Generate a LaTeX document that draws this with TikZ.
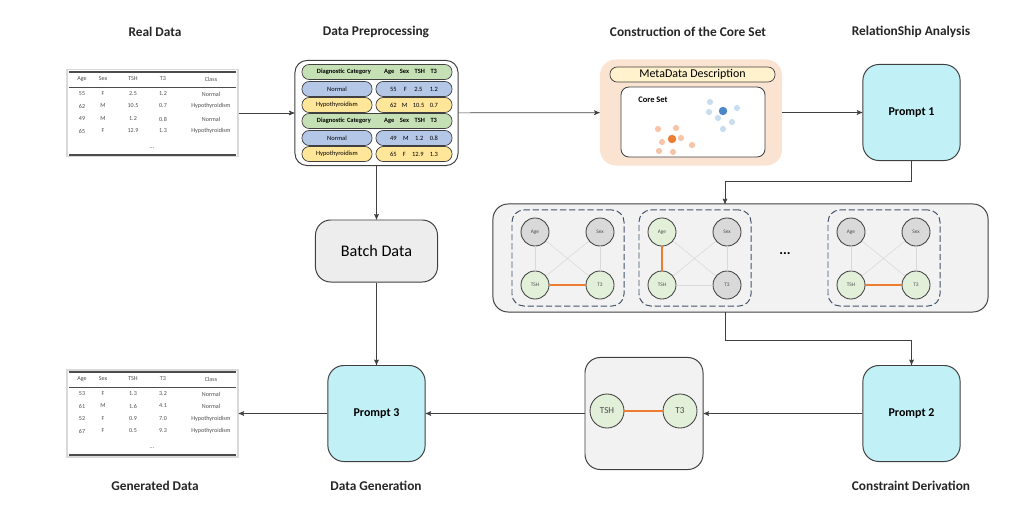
\documentclass[tikz,border=0pt]{standalone}
\usepackage{fontspec}
\setmainfont{Carlito}
\usetikzlibrary{arrows,positioning}
\definecolor{darkline}{HTML}{404040}
\definecolor{cyanbox}{HTML}{C1F1F7}
\definecolor{greenpill}{HTML}{C5E0B4}
\definecolor{bluepill}{HTML}{B4C7E7}
\definecolor{yellowpill}{HTML}{FFE699}
\definecolor{peach}{HTML}{FBE3D2}
\definecolor{metayellow}{HTML}{FFF2CC}
\definecolor{panelgray}{HTML}{F2F2F2}
\definecolor{nodegray}{HTML}{D9D9D9}
\definecolor{nodegreen}{HTML}{E2F0D9}
\definecolor{edgeorange}{HTML}{ED7D31}
\definecolor{dashblue}{HTML}{44546A}
\definecolor{dotblue}{HTML}{4A86C8}
\definecolor{dotblue2}{HTML}{C9DDF0}
\definecolor{dotorange2}{HTML}{F6C4A6}
\newcommand{\cellgap}{\hskip 0pt plus 1fill}
\begin{document}
\begin{tikzpicture}[x=0.025cm,y=-0.025cm,>=stealth',
    title/.style={font=\fontsize{9.5}{11}\selectfont\bfseries,text=black!85},
    arr/.style={->,draw=darkline,line width=0.5pt},
    tabframe/.style={draw=black!15,fill=white,minimum width=4.275cm,minimum height=2.175cm,inner sep=0pt,line width=0.8pt},
    tabtxt/.style={font=\fontsize{4.3}{5}\selectfont,text=black!70,inner sep=0pt},
    tabrule/.style={draw=black!70,line width=0.9pt},
    prepbox/.style={draw=darkline,fill=white,rounded corners=0.3cm,minimum width=4.075cm,minimum height=2.625cm,line width=0.7pt},
    pill/.style={draw=darkline,rounded corners=0.18cm,minimum height=0.375cm,inner sep=0pt,font=\fontsize{4.6}{5}\selectfont,line width=0.5pt},
    prompt/.style={draw=darkline,fill=cyanbox,rounded corners=0.4cm,minimum width=2.43cm,minimum height=2.4cm,font=\fontsize{8.5}{10}\selectfont\bfseries,line width=0.7pt},
    greybox/.style={draw=darkline,fill=panelgray,rounded corners=0.38cm,line width=0.7pt,inner sep=0pt},
    cluster/.style={draw=dashblue,dash pattern=on 4.5pt off 2pt,rounded corners=0.3cm,minimum width=2.8cm,minimum height=2.4cm,line width=0.7pt},
    var/.style={circle,draw=darkline,minimum size=0.7cm,inner sep=0pt,font=\fontsize{3.8}{4}\selectfont,text=black!70,line width=0.6pt},
    faint/.style={draw=black!15,line width=0.4pt},
    strong/.style={draw=edgeorange,line width=1pt}
]
\useasboundingbox (0,0) rectangle (1024,512);

% titles
\node[title] (treal) at (155,32) {Real Data};
\node[title] (tprep) at (376,32) {Data Preprocessing};
\node[title] (tcore) at (688,32) {Construction of the Core Set};
\node[title] (trel) at (911,32) {RelationShip Analysis};
\node[title] (tgen) at (155,486) {Generated Data};
\node[title] (tdgen) at (376,486) {Data Generation};
\node[title] (tcons) at (911,486) {Constraint Derivation};

% real data table
\node[tabframe] (realtab) at (152.5,113) {};
\draw[tabrule] (69,72) -- (236,72);
\draw[draw=black!70,line width=0.6pt] (69,87) -- (236,87);
\draw[tabrule] (69,155) -- (236,155);
\foreach \cx/\ct in {82/Age,103/Sex,133/TSH,163/T3,211/Class}
    \node[tabtxt] (real-h-\ct) at (\cx,79) {\ct};
\foreach \ry/\ra/\rs/\rh/\rt/\rc in {94/55/F/2.5/1.2/Normal,106/62/M/10.5/0.7/Hypothyroidism,
        119/49/M/1.2/0.8/Normal,131/65/F/12.9/1.3/Hypothyroidism}{
    \node[tabtxt] (real-\ry-a) at (82,\ry) {\ra};
    \node[tabtxt] (real-\ry-s) at (103,\ry) {\rs};
    \node[tabtxt] (real-\ry-h) at (133,\ry) {\rh};
    \node[tabtxt] (real-\ry-t) at (163,\ry) {\rt};
    \node[tabtxt] (real-\ry-c) at (211,\ry) {\rc};
}
\node[tabtxt] (real-dots) at (152,148) {...};

% data preprocessing
\node[prepbox] (prep) at (376.5,113) {};
\foreach \ry in {72,121}{
    \node[pill,fill=greenpill,minimum width=3.75cm,text width=3cm,font=\fontsize{4.6}{5}\selectfont\bfseries] (prep-\ry)
        at (377,\ry) {Diagnostic Category\cellgap\hspace{1.2em}Age\cellgap Sex\cellgap TSH\cellgap T3};
}
\foreach \ry/\rc/\ra/\rs/\rh/\rt/\rf in {89/Normal/55/F/2.5/1.2/bluepill,105/Hypothyroidism/62/M/10.5/0.7/yellowpill,
        138/Normal/49/M/1.2/0.8/bluepill,154/Hypothyroidism/65/F/12.9/1.3/yellowpill}{
    \node[pill,fill=\rf,minimum width=1.75cm] (prep-\ry-l) at (337,\ry) {\rc};
    \node[pill,fill=\rf,minimum width=1.9cm,text width=1.2cm] (prep-\ry-r) at (414,\ry)
        {\ra\cellgap\rs\cellgap\rh\cellgap\rt};
}

% core set
\node[fill=peach,rounded corners=0.4cm,minimum width=4.55cm,minimum height=2.65cm] (coreset) at (691,112.5) {};
\node[pill,fill=metayellow,minimum width=4.125cm,font=\fontsize{8.5}{9}\selectfont] (meta) at (692.5,74.5) {MetaData Description};
\node[draw=darkline,fill=white,rounded corners=0.2cm,minimum width=3.6cm,minimum height=1.75cm,line width=0.6pt] (coreinner) at (693,122) {};
\node[font=\fontsize{6}{7}\selectfont\bfseries,inner sep=0pt] (corelabel) at (653,100) {Core Set};
\foreach \p in {(710,102),(709,112),(718,118),(737,108),(732,122),(723,129)}
    \fill[dotblue2] \p circle (2.2pt);
\fill[dotblue] (723,111) circle (3pt);
\foreach \p in {(658,129),(676,128),(662,142),(681,138),(692,145),(659,151),(673,152)}
    \fill[dotorange2] \p circle (2.2pt);
\fill[edgeorange] (672,139) circle (3pt);

% relationship analysis
\node[prompt] (p1) at (911.5,112.5) {Prompt 1};
\node[greybox,minimum width=12.375cm,minimum height=2.7cm] (rel) at (740.5,258) {};
\node[cluster] (c1) at (568,258) {};
\node[cluster] (c2) at (695,258) {};
\node[cluster] (c3) at (884,258) {};
\node[var,fill=nodegray] (age1) at (535,232) {Age};
\node[var,fill=nodegray] (sex1) at (600,232) {Sex};
\node[var,fill=nodegreen] (tsh1) at (535,285) {TSH};
\node[var,fill=nodegreen] (t31) at (600,285) {T3};
\node[var,fill=nodegreen] (age2) at (662,232) {Age};
\node[var,fill=nodegray] (sex2) at (727,232) {Sex};
\node[var,fill=nodegreen] (tsh2) at (662,285) {TSH};
\node[var,fill=nodegray] (t32) at (727,285) {T3};
\node[var,fill=nodegray] (age3) at (851,232) {Age};
\node[var,fill=nodegray] (sex3) at (916,232) {Sex};
\node[var,fill=nodegreen] (tsh3) at (851,285) {TSH};
\node[var,fill=nodegreen] (t33) at (916,285) {T3};
\node[font=\fontsize{10}{10}\selectfont\bfseries] (more) at (785,254) {...};

\path (age1) edge[faint] (tsh1);
\path (sex1) edge[faint] (t31);
\path (age1) edge[faint] (t31);
\path (sex1) edge[faint] (tsh1);
\path (tsh1) edge[strong] (t31);
\path (age2) edge[strong] (tsh2);
\path (sex2) edge[faint] (t32);
\path (age2) edge[faint] (t32);
\path (sex2) edge[faint] (tsh2);
\path (tsh2) edge[faint] (t32);
\path (age3) edge[faint] (tsh3);
\path (sex3) edge[faint] (t33);
\path (age3) edge[faint] (t33);
\path (sex3) edge[faint] (tsh3);
\path (tsh3) edge[strong] (t33);

% constraint derivation
\node[prompt] (p2) at (911.5,413.5) {Prompt 2};
\node[greybox,minimum width=2.95cm,minimum height=2.8cm] (cons) at (644,413.5) {};
\node[var,fill=nodegreen,minimum size=0.85cm,font=\fontsize{6.5}{7}\selectfont] (tsh) at (607,411) {TSH};
\node[var,fill=nodegreen,minimum size=0.85cm,font=\fontsize{6.5}{7}\selectfont] (t3) at (680,411) {T3};
\path (tsh) edge[strong] (t3);

% data generation
\node[greybox,fill=black!7,minimum width=3.05cm,minimum height=1.55cm,font=\fontsize{11.5}{13}\selectfont] (batch) at (376.5,251) {Batch Data};
\node[prompt] (p3) at (376.5,413.5) {Prompt 3};

% generated data table
\node[tabframe] (gentab) at (152.5,413.5) {};
\draw[tabrule] (69,372) -- (236,372);
\draw[draw=black!70,line width=0.6pt] (69,387) -- (236,387);
\draw[tabrule] (69,455) -- (236,455);
\foreach \cx/\ct in {82/Age,103/Sex,133/TSH,163/T3,211/Class}
    \node[tabtxt] (gen-h-\ct) at (\cx,379) {\ct};
\foreach \ry/\ra/\rs/\rh/\rt/\rc in {394/53/F/1.3/3.2/Normal,406/61/M/1.6/4.1/Normal,
        419/52/F/0.9/7.0/Hypothyroidism,431/67/F/0.5/9.3/Hypothyroidism}{
    \node[tabtxt] (gen-\ry-a) at (82,\ry) {\ra};
    \node[tabtxt] (gen-\ry-s) at (103,\ry) {\rs};
    \node[tabtxt] (gen-\ry-h) at (133,\ry) {\rh};
    \node[tabtxt] (gen-\ry-t) at (163,\ry) {\rt};
    \node[tabtxt] (gen-\ry-c) at (211,\ry) {\rc};
}
\node[tabtxt] (gen-dots) at (152,448) {...};

% connectors
\coordinate (relin) at (725,204);
\coordinate (relout) at (725,312);
\draw[arr] (realtab) -- (prep);
\draw[arr] (prep) -- (coreset);
\draw[arr] (coreset) -- (p1);
\draw[arr] (p1.south) -- ++(0,20) -| (relin);
\draw[arr] (relout) -- ++(0,28) -| (p2.north);
\draw[arr] (p2) -- (cons);
\draw[arr] (cons) -- (p3);
\draw[arr] (p3) -- (gentab);
\draw[arr] (prep) -- (batch);
\draw[arr] (batch) -- (p3);

\end{tikzpicture}
\end{document}
